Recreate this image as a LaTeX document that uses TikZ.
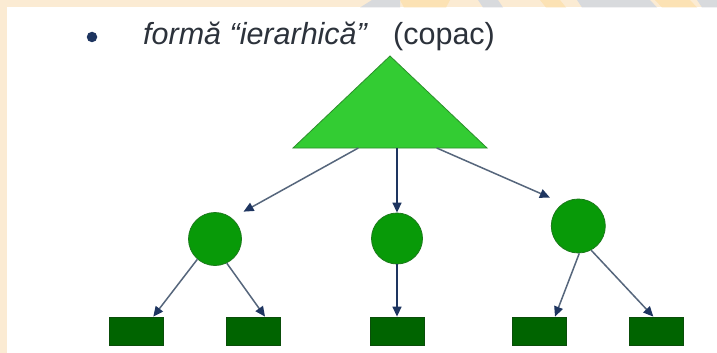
\documentclass[tikz,border=0pt]{standalone}
\usepackage{fontspec}
\setmainfont{Liberation Sans}
\usetikzlibrary{arrows.meta,calc}
\definecolor{beige}{HTML}{FBEBD3}
\definecolor{paleor}{HTML}{FCE2B4}
\definecolor{wmgray}{HTML}{D8DADD}
\definecolor{navy}{HTML}{1E3560}
\definecolor{slate}{HTML}{56667C}
\definecolor{txt}{HTML}{2C323B}
\definecolor{trifill}{HTML}{33CC33}
\definecolor{triedge}{HTML}{2C8F2C}
\definecolor{circfill}{HTML}{089A08}
\definecolor{circedge}{HTML}{1B7A1B}
\definecolor{rectfill}{HTML}{006400}
\definecolor{rectedge}{HTML}{0A4E0A}
\tikzset{
  circnode/.style={circle, fill=circfill, draw=circedge, line width=0.8pt, inner sep=0pt},
  leaf/.style={rectangle, fill=rectfill, draw=rectedge, line width=0.8pt, inner sep=0pt, minimum width=54pt, minimum height=28pt},
  conn/.style={slate, line width=1.5pt, -{Triangle[length=10pt,width=9pt,color=navy]}},
  vconn/.style={navy, line width=1.5pt, -{Triangle[length=10pt,width=9pt,color=navy]}},
  titletext/.style={text=txt, inner sep=0pt, font=\fontsize{30.5}{36}\selectfont}
}
\begin{document}
\begin{tikzpicture}[x=1pt,y=-1pt]
\useasboundingbox (0,0) rectangle (717,353);
% background
\fill[white] (0,0) rectangle (717,353);
\fill[beige] (0,0) rectangle (717,7.5);
\fill[beige] (0,0) rectangle (7,353);
\fill[paleor] (400,0) -- (450,0) -- (446,7.5) -- (404,7.5) -- cycle;
\fill[paleor] (540,0) -- (560,0) -- (566,7.5) -- (546,7.5) -- cycle;
\fill[paleor] (655,0) -- (690,0) -- (697,7.5) -- (662,7.5) -- cycle;
\fill[wmgray] (360,7.5) -- (372,0) -- (400,0) -- (400,7.5) -- cycle;
\fill[wmgray] (478,0) -- (498,0) -- (503,7.5) -- (483,7.5) -- cycle;
\fill[wmgray] (577,0) -- (650,0) -- (657,7.5) -- (582,7.5) -- cycle;
\fill[wmgray] (697,0) -- (717,0) -- (717,7.5) -- (702,7.5) -- cycle;

% title
\node[circle, fill=navy, minimum size=10.5pt, inner sep=0pt] (bullet) at (92,37) {};
\node[titletext, anchor=base west] (title) at (143,45) {\itshape formă “ierarhică”};
\node[titletext, anchor=base west] (copac) at (393,45) {(copac)};

% root triangle
\filldraw[fill=trifill, draw=triedge, line width=0.8pt, line join=miter]
  (390,56) -- (487,148) -- (293,148) -- cycle;
\coordinate (t1) at (358.3,148);
\coordinate (t2) at (397,148);
\coordinate (t3) at (436.7,148);

% second level
\node[circnode, minimum size=53pt] (c1) at (215,239) {};
\node[circnode, minimum size=51pt] (c2) at (397,238.5) {};
\node[circnode, minimum size=54pt] (c3) at (578.3,226) {};

% leaves
\node[leaf] (r1) at (136.7,331) {};
\node[leaf] (r2) at (253.7,331) {};
\node[leaf] (r3) at (397,331) {};
\node[leaf] (r4) at (539.5,331) {};
\node[leaf] (r5) at (656.3,331) {};

% connectors from root
\draw[conn, shorten >=13.3pt] (t1) -- (c1.51);
\draw[vconn] (t2) -- (c2.north);
\draw[conn, shorten >=14.3pt] (t3) -- (c3.124);

% connectors to leaves
\draw[conn] (c1.-131) -- ($(r1.north)+(16.6,0)$);
\draw[conn] (c1.-64) -- ($(r2.north)+(11.3,0)$);
\draw[vconn] (c2.south) -- (r3.north);
\draw[conn] (c3.-88) -- ($(r4.north)+(15.5,0)$);
\draw[conn] (c3.-62) -- ($(r5.north)+(-3,0)$);
\end{tikzpicture}
\end{document}
